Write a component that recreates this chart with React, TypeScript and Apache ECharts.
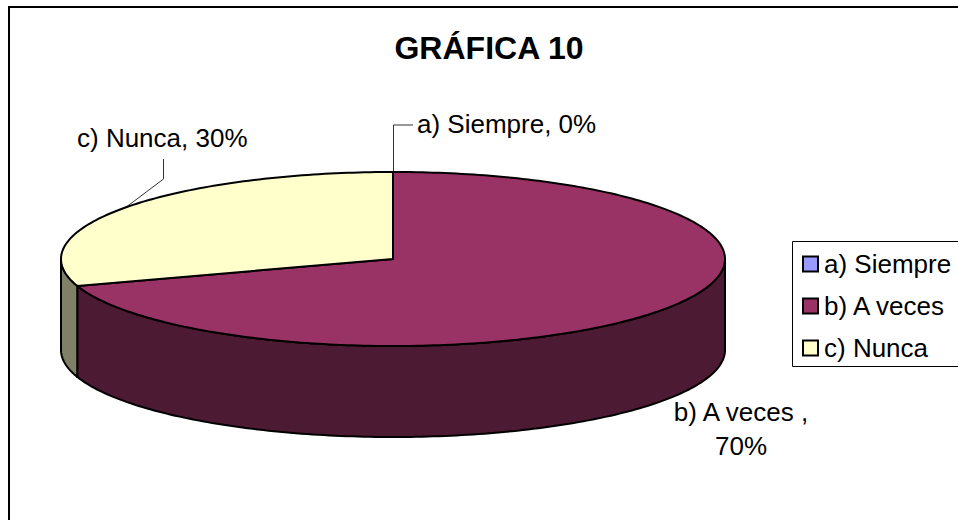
import React, { useEffect, useRef } from "react";
import * as echarts from "echarts";

const chartTitle = "GRÁFICA 10";
const categories = ["a) Siempre", "b) A veces", "c) Nunca"];
const percents = [0, 70, 30];
const topColors = ["#9999FF", "#993366", "#FFFFCC"];
const wallColors = ["#4D4D80", "#4D1A33", "#808066"];

const FONT = '"Liberation Sans", Arial, sans-serif';
const CX = 393, CY = 259, RX = 332, RY = 87, DEPTH = 91;

const pt = (deg: number, dy = 0) => {
  const a = (deg * Math.PI) / 180;
  return [CX + RX * Math.sin(a), CY - RY * Math.cos(a) + dy];
};
const arc = (from: number, to: number, dy = 0) => {
  const out: number[][] = [];
  const n = Math.max(1, Math.ceil(Math.abs(to - from)));
  for (let i = 0; i <= n; i++) out.push(pt(from + ((to - from) * i) / n, dy));
  return out;
};

const cumulative = percents.map((_, i) => percents.slice(0, i).reduce((s, v) => s + v, 0));

const stroke = { stroke: "#000", lineWidth: 2, lineJoin: "round" as const };

function renderSlice(params: any, api: any) {
  const start = (api.value(0) / 100) * 360;
  const end = start + (api.value(1) / 100) * 360;
  const children: any[] = [];
  const a0 = Math.max(start, 90);
  const a1 = Math.min(end, 270);
  if (a1 > a0) {
    children.push({
      type: "polygon",
      shape: { points: [...arc(a0, a1), ...arc(a1, a0, DEPTH)] },
      style: { fill: wallColors[params.seriesIndex], ...stroke },
    });
  }
  children.push({
    type: "polygon",
    shape: { points: [[CX, CY], ...arc(start, end)] },
    style: { fill: topColors[params.seriesIndex], ...stroke },
  });
  return { type: "group", children };
}

export default function App() {
  const ref = useRef<HTMLDivElement>(null);
  useEffect(() => {
    const chart = echarts.init(ref.current!, null, { renderer: "svg" });
    const labelStyle = { fill: "#000", font: `26px ${FONT}` };
    chart.setOption({
      animation: false,
      backgroundColor: "#fff",
      title: {
        text: chartTitle,
        left: 484,
        top: 27,
        textAlign: "center",
        textStyle: { fontFamily: FONT, fontWeight: "bold", fontSize: 32, color: "#000" },
      },
      legend: {
        left: 797,
        top: 246,
        orient: "vertical",
        padding: 5,
        data: categories,
        icon: "rect",
        itemWidth: 15,
        itemHeight: 15,
        itemGap: 16,
        itemStyle: { borderColor: "#000", borderWidth: 2 },
        textStyle: { fontFamily: FONT, fontSize: 26, color: "#000", padding: [0, 0, 0, 1] },
        selectedMode: false,
      },
      series: categories.map((name, i) => ({
        type: "custom",
        name,
        coordinateSystem: "none",
        itemStyle: { color: topColors[i] },
        silent: true,
        renderItem: renderSlice,
        data: [[cumulative[i], percents[i]]],
      })),
      graphic: [
        { type: "rect", shape: { x: 9, y: 7, width: 1100, height: 700 }, style: { fill: "none", stroke: "#000", lineWidth: 2 }, silent: true },
        { type: "rect", shape: { x: 792.5, y: 241.5, width: 300, height: 125 }, style: { fill: "none", stroke: "#000", lineWidth: 1 }, silent: true },
        { type: "polyline", shape: { points: [[393.5, 172], [393.5, 125], [413, 125]] }, style: { fill: "none", stroke: "#333", lineWidth: 1 }, silent: true },
        { type: "polyline", shape: { points: [[125, 208], [163.5, 179], [163.5, 159]] }, style: { fill: "none", stroke: "#333", lineWidth: 1 }, silent: true },
        { type: "text", x: 417, y: 111, style: { text: `${categories[0]}, ${percents[0]}%`, ...labelStyle } },
        { type: "text", x: 77, y: 125, style: { text: `${categories[2]}, ${percents[2]}%`, ...labelStyle } },
        { type: "text", x: 741, y: 395, style: { text: `${categories[1]} ,\n${percents[1]}%`, align: "center", lineHeight: 34, ...labelStyle } },
      ],
    });
    return () => chart.dispose();
  }, []);
  return <div ref={ref} style={{ position: "fixed", left: 0, top: 0, width: 958, height: 520 }} />;
}
